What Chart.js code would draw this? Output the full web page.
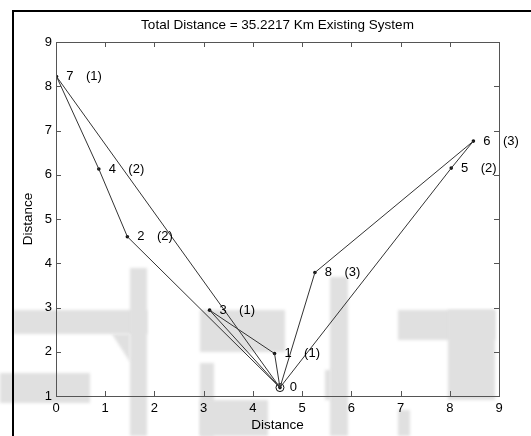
<!DOCTYPE html>
<html>
<head>
<meta charset="utf-8">
<script src="https://cdn.jsdelivr.net/npm/chart.js@4/dist/chart.umd.min.js"></script>
<style>
  html, body { margin: 0; padding: 0; background: #fff; }
  canvas { display: block; }
</style>
</head>
<body>
<canvas id="c" width="531" height="436"></canvas>
<script>
// Customer nodes (0 = depot)
const nodeIds = [0, 1, 2, 3, 4, 5, 6, 7, 8];
const nodeX   = [4.55, 4.44, 1.45, 3.12, 0.87, 8.03, 8.48, 0.01, 5.26];
const nodeY   = [1.19, 1.96, 4.60, 2.94, 6.13, 6.15, 6.76, 8.22, 3.79];
const demand  = [null, 1, 2, 1, 2, 2, 3, 1, 3];

// Vehicle routes as node sequences
const routeA = [0, 7, 4, 2, 0];
const routeB = [0, 3, 1, 0];
const routeC = [0, 8, 6, 5, 0];
const routes = [routeA, routeB, routeC];

const xTicks = [0, 1, 2, 3, 4, 5, 6, 7, 8, 9];
const yTicks = [1, 2, 3, 4, 5, 6, 7, 8, 9];

const titleText = 'Total Distance = 35.2217 Km Existing System';
const FONT = "'Liberation Sans', Arial, Helvetica, sans-serif";

const pt = i => ({ x: nodeX[i], y: nodeY[i] });

const routeSets = routes.map(r => ({
  data: r.map(pt),
  showLine: true,
  borderColor: '#333',
  borderWidth: 1,
  pointRadius: 0,
  fill: false
}));

const nodeSet = {
  data: nodeIds.map(pt),
  showLine: false,
  pointRadius: 1.8,
  pointBackgroundColor: '#111',
  pointBorderColor: '#111',
  pointBorderWidth: 0
};

const depotSet = {
  data: [pt(0)],
  showLine: false,
  pointStyle: 'circle',
  pointRadius: 4,
  pointBackgroundColor: 'rgba(0,0,0,0)',
  pointBorderColor: '#111',
  pointBorderWidth: 1
};

// Light background blocks
const backdrop = {
  id: 'backdrop',
  beforeDraw(chart) {
    const ctx = chart.ctx;
    ctx.save();
    ctx.fillStyle = '#fff';
    ctx.fillRect(0, 0, chart.width, chart.height);
    ctx.filter = 'blur(1.5px)';
    ctx.fillStyle = '#e0e0e0';
    ctx.fillRect(13, 310, 134, 24);
    ctx.fillRect(130, 268, 17, 168);
    ctx.beginPath();
    ctx.moveTo(112, 334); ctx.lineTo(130, 334); ctx.lineTo(130, 362); ctx.closePath();
    ctx.fill();
    ctx.fillRect(0, 373, 90, 30);
    ctx.fillRect(200, 310, 85, 42);
    ctx.fillRect(200, 363, 14, 73);
    ctx.fillRect(200, 400, 68, 36);
    ctx.fillRect(330, 277, 18, 159);
    ctx.fillRect(325, 370, 6, 30);
    ctx.fillRect(398, 310, 97, 30);
    ctx.fillRect(448, 310, 47, 90);
    ctx.fillRect(398, 410, 12, 26);
    ctx.restore();
  }
};

// Frame, box, inward ticks, title and node labels
const decor = {
  id: 'decor',
  afterDraw(chart) {
    const ctx = chart.ctx;
    const a = chart.chartArea;
    const xs = chart.scales.x, ys = chart.scales.y;
    ctx.save();

    // outer figure frame
    ctx.strokeStyle = '#000';
    ctx.lineWidth = 2;
    ctx.strokeRect(13, 11, 700, 700);

    // axes box
    ctx.strokeStyle = '#555';
    ctx.lineWidth = 1;
    ctx.strokeRect(Math.round(a.left) + 0.5, Math.round(a.top) + 0.5,
                   Math.round(a.right - a.left), Math.round(a.bottom - a.top));

    // inward tick marks on all four sides
    const tl = 5;
    ctx.beginPath();
    xTicks.forEach(v => {
      const px = Math.round(xs.getPixelForValue(v)) + 0.5;
      ctx.moveTo(px, a.bottom); ctx.lineTo(px, a.bottom - tl);
      ctx.moveTo(px, a.top); ctx.lineTo(px, a.top + tl);
    });
    yTicks.forEach(v => {
      const py = Math.round(ys.getPixelForValue(v)) + 0.5;
      ctx.moveTo(a.left, py); ctx.lineTo(a.left + tl, py);
      ctx.moveTo(a.right, py); ctx.lineTo(a.right - tl, py);
    });
    ctx.stroke();

    // title
    ctx.fillStyle = '#000';
    ctx.font = '13.5px ' + FONT;
    ctx.textAlign = 'center';
    ctx.textBaseline = 'middle';
    ctx.fillText(titleText, (a.left + a.right) / 2, 25);

    // node labels and demands
    ctx.font = '13px ' + FONT;
    ctx.textAlign = 'left';
    nodeIds.forEach((id, i) => {
      const py = ys.getPixelForValue(nodeY[i]);
      ctx.fillText(String(id), xs.getPixelForValue(nodeX[i] + 0.2), py);
      if (demand[i] !== null) {
        ctx.fillText('(' + demand[i] + ')', xs.getPixelForValue(nodeX[i] + 0.6), py);
      }
    });
    ctx.restore();
  }
};

new Chart(document.getElementById('c'), {
  type: 'scatter',
  data: { datasets: [...routeSets, nodeSet, depotSet] },
  options: {
    responsive: false,
    animation: false,
    devicePixelRatio: 1,
    layout: { padding: { left: 0, right: 32, top: 42, bottom: 0 } },
    plugins: {
      legend: { display: false },
      tooltip: { enabled: false },
      title: { display: false }
    },
    scales: {
      x: {
        type: 'linear',
        min: 0, max: 9,
        afterBuildTicks(s) { s.ticks = xTicks.map(v => ({ value: v })); },
        ticks: { color: '#000', font: { size: 13, family: FONT }, padding: 5, maxRotation: 0 },
        grid: { display: false, drawTicks: false },
        border: { display: false },
        title: { display: true, text: 'Distance', color: '#000',
                 font: { size: 13.5, family: FONT }, padding: { top: 0, bottom: 3 } },
        afterFit(s) { s.height = 40; }
      },
      y: {
        type: 'linear',
        min: 1, max: 9,
        afterBuildTicks(s) { s.ticks = yTicks.map(v => ({ value: v })); },
        ticks: { color: '#000', font: { size: 13, family: FONT }, padding: 4 },
        grid: { display: false, drawTicks: false },
        border: { display: false },
        title: { display: true, text: 'Distance', color: '#000',
                 font: { size: 13.5, family: FONT }, padding: { top: 20, bottom: 0 } },
        afterFit(s) { s.width = 56; }
      }
    }
  },
  plugins: [backdrop, decor]
});
</script>
</body>
</html>
